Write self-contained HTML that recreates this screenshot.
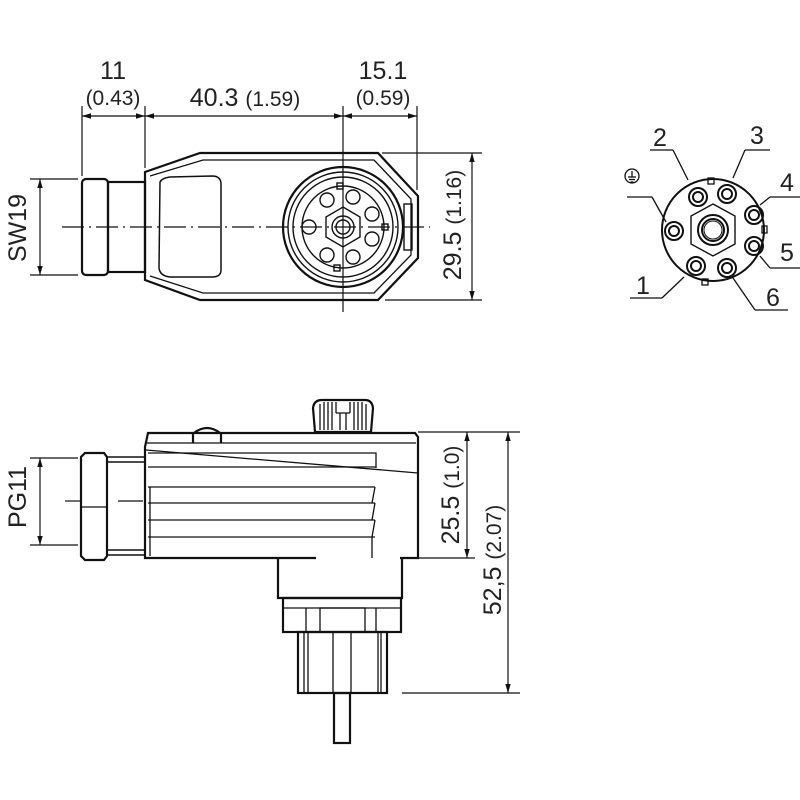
<!DOCTYPE html>
<html><head><meta charset="utf-8"><style>html,body{margin:0;padding:0;background:#fff}svg{display:block}</style></head>
<body>
<svg width="800" height="800" viewBox="0 0 800 800" xmlns="http://www.w3.org/2000/svg" font-family="Liberation Sans, sans-serif" fill="none" stroke="#111">
<defs>
<marker id="a" viewBox="0 0 10 10" refX="10" refY="5" markerWidth="9" markerHeight="9" orient="auto-start-reverse" markerUnits="userSpaceOnUse"><path d="M0,2 L10,5 L0,8 Z" fill="#111" stroke="none"/></marker>
</defs>
<g font-size="25" fill="#222" stroke="none">
<text x="113" y="79" text-anchor="middle">11</text>
<text x="113" y="105" text-anchor="middle" font-size="21">(0.43)</text>
<text x="245" y="106" text-anchor="middle">40.3 <tspan font-size="21">(1.59)</tspan></text>
<text x="383" y="79" text-anchor="middle">15.1</text>
<text x="383" y="105" text-anchor="middle" font-size="21">(0.59)</text>
<text transform="translate(461,225) rotate(-90)" text-anchor="middle">29.5 <tspan font-size="21">(1.16)</tspan></text>
<text transform="translate(26,228) rotate(-90)" text-anchor="middle">SW19</text>
<text transform="translate(26,497) rotate(-90)" text-anchor="middle">PG11</text>
<text transform="translate(459,495) rotate(-90)" text-anchor="middle">25.5 <tspan font-size="21">(1.0)</tspan></text>
<text transform="translate(501,560) rotate(-90)" text-anchor="middle">52,5 <tspan font-size="21">(2.07)</tspan></text>
<text x="660" y="146" text-anchor="middle">2</text>
<text x="757" y="144" text-anchor="middle">3</text>
<text x="787" y="191" text-anchor="middle">4</text>
<text x="787" y="261" text-anchor="middle">5</text>
<text x="773" y="306" text-anchor="middle">6</text>
<text x="643" y="294" text-anchor="middle">1</text>
</g>
<!-- top dims -->
<g stroke-width="1.2">
<line x1="82" y1="106" x2="82" y2="176"/><line x1="145" y1="106" x2="145" y2="168"/><line x1="343" y1="106" x2="343" y2="150"/><line x1="417" y1="106" x2="417" y2="190"/>
<line x1="82" y1="116" x2="145" y2="116" marker-start="url(#a)" marker-end="url(#a)"/>
<line x1="145" y1="116" x2="343" y2="116" marker-start="url(#a)" marker-end="url(#a)"/>
<line x1="343" y1="116" x2="417" y2="116" marker-start="url(#a)" marker-end="url(#a)"/>
<line x1="382" y1="153" x2="482" y2="153"/><line x1="385" y1="300" x2="482" y2="300"/>
<line x1="472" y1="153" x2="472" y2="300" marker-start="url(#a)" marker-end="url(#a)"/>
<line x1="30" y1="179" x2="78" y2="179"/><line x1="30" y1="275" x2="78" y2="275"/>
<line x1="40" y1="179" x2="40" y2="275" marker-start="url(#a)" marker-end="url(#a)"/>
<line x1="62" y1="227" x2="430" y2="227" stroke-dasharray="22,5,2,5"/>
<line x1="343" y1="150" x2="343" y2="312"/>
</g>
<!-- top view -->
<g stroke-width="2.2">
<rect x="82" y="179" width="26" height="96" rx="4"/>
<rect x="108" y="182" width="37" height="90"/>
<path d="M145,172 L200,153 L378,153 L418,196 L418,258 L378,300 L200,300 L145,280 Z"/>
<path d="M150,176 L203,160 L374,160 L411,199 L411,255 L374,293 L203,293 L150,276" stroke-width="1.3"/>
<path d="M160,182 Q162,178 170,177 L212,176 Q221,176 221,184 L221,270 Q221,277 212,277 L170,277 Q160,276 159,268 Z" stroke-width="1.5"/>
<circle cx="343" cy="227" r="60"/>
<circle cx="343" cy="227" r="55" stroke-width="1.4"/>
<circle cx="343" cy="227" r="50" stroke-width="1.4"/>
<circle cx="343" cy="227" r="41" stroke-width="1.4"/>
<rect x="404" y="204" width="8" height="46" stroke-width="1.4"/>
</g>
<g stroke-width="1.4">
<circle cx="327" cy="200" r="7"/><circle cx="353" cy="197" r="7"/><circle cx="372" cy="214" r="7"/><circle cx="372" cy="239" r="7"/><circle cx="353" cy="257" r="7"/><circle cx="327" cy="255" r="7"/><circle cx="309" cy="227" r="7"/>
<circle cx="343" cy="227" r="11"/><circle cx="343" cy="227" r="7"/>
<polygon points="343,207 360,217 360,237 343,247 326,237 326,217"/>
<rect x="337" y="183" width="6" height="6"/><rect x="334" y="265" width="6" height="6"/><rect x="382" y="224" width="6" height="6"/>
</g>
<!-- pin diagram -->
<g stroke-width="2">
<circle cx="713" cy="230" r="51"/>
<polygon points="713,204 735,216 735,244 713,256 691,244 691,216" stroke-width="1.4"/>
<circle cx="713" cy="230" r="15"/><circle cx="713" cy="230" r="11"/><circle cx="713" cy="230" r="9" stroke-width="1"/>
<circle cx="698" cy="197" r="9"/><circle cx="698" cy="197" r="5"/>
<circle cx="727" cy="194" r="9"/><circle cx="727" cy="194" r="5"/>
<circle cx="754" cy="215" r="9"/><circle cx="754" cy="215" r="5"/>
<circle cx="754" cy="246" r="9"/><circle cx="754" cy="246" r="5"/>
<circle cx="727" cy="268" r="9"/><circle cx="727" cy="268" r="5"/>
<circle cx="696" cy="266" r="9"/><circle cx="696" cy="266" r="5"/>
<circle cx="674" cy="231" r="9"/><circle cx="674" cy="231" r="5"/>
<rect x="708" y="178" width="6" height="6" stroke-width="1.3"/><rect x="702" y="279" width="6" height="6" stroke-width="1.3"/><rect x="762" y="226" width="5" height="7" stroke-width="1.3"/>
</g>
<g stroke-width="1.3">
<line x1="650" y1="150" x2="673" y2="150"/><line x1="673" y1="150" x2="688" y2="180"/>
<line x1="745" y1="150" x2="770" y2="150"/><line x1="745" y1="150" x2="733" y2="178"/>
<line x1="770" y1="197" x2="800" y2="197"/><line x1="770" y1="197" x2="760" y2="205"/>
<line x1="770" y1="268" x2="800" y2="268"/><line x1="770" y1="268" x2="760" y2="256"/>
<line x1="755" y1="310" x2="788" y2="310"/><line x1="755" y1="310" x2="733" y2="278"/>
<line x1="630" y1="298" x2="662" y2="298"/><line x1="662" y1="298" x2="684" y2="277"/>
<line x1="627" y1="197" x2="652" y2="197"/><line x1="652" y1="197" x2="666" y2="222"/>
<circle cx="632" cy="176" r="7"/><line x1="632" y1="171" x2="632" y2="177"/><line x1="628" y1="177" x2="636" y2="177"/><line x1="629" y1="179.5" x2="635" y2="179.5"/><line x1="630.5" y1="182" x2="633.5" y2="182"/>
</g>
<!-- bottom view dims -->
<g stroke-width="1.2">
<line x1="30" y1="458" x2="78" y2="458"/><line x1="30" y1="545" x2="78" y2="545"/>
<line x1="40" y1="458" x2="40" y2="545" marker-start="url(#a)" marker-end="url(#a)"/>
<line x1="65" y1="501" x2="80" y2="501"/><line x1="118" y1="501" x2="143" y2="501"/>
<line x1="418" y1="432" x2="520" y2="432"/><line x1="415" y1="558" x2="475" y2="558"/><line x1="402" y1="693" x2="520" y2="693"/>
<line x1="467" y1="432" x2="467" y2="558" marker-start="url(#a)" marker-end="url(#a)"/>
<line x1="508" y1="432" x2="508" y2="693" marker-start="url(#a)" marker-end="url(#a)"/>
</g>
<!-- bottom view -->
<g stroke-width="2.2">
<path d="M85,453 L104,453 L107,457 L107,556 L104,560 L85,560 L81,556 L81,457 Z"/>
<line x1="81" y1="507" x2="107" y2="507" stroke-width="1.2"/>
<path d="M107,457 L145,457 M107,555 L145,555 M107,462 L145,462 M107,550 L145,550" stroke-width="1.4"/>
<path d="M316,558 L145,558 L145,447 L148,433 L415,433 L418,437 L418,558 L400,558"/>
<path d="M193,443 L193,433 M221,443 L221,433 M194,433 Q207,423 220,433"/>
<path d="M278,558 L278,598 L402,598 L402,558"/>
<rect x="283" y="598" width="118" height="34"/>
<rect x="298" y="632" width="89" height="61"/>
<rect x="334" y="693" width="16" height="50"/>
<path d="M315,432 L313,408 Q314,400 322,400 L365,400 Q372,400 373,408 L371,432 Z"/>
</g>
<g stroke-width="1.3">
<line x1="146" y1="443" x2="416" y2="443"/>
<line x1="146" y1="450" x2="418" y2="473"/>
<path d="M148,453 L376,453 L376,468"/>
<line x1="148" y1="467" x2="376" y2="467"/>
<line x1="148" y1="487" x2="375" y2="487"/><line x1="148" y1="503" x2="375" y2="503"/><line x1="148" y1="520" x2="375" y2="520"/><line x1="148" y1="537" x2="375" y2="537"/>
<line x1="375" y1="487" x2="372" y2="503"/><line x1="375" y1="503" x2="372" y2="520"/><line x1="375" y1="520" x2="372" y2="537"/>
<line x1="372" y1="537" x2="372" y2="558"/>
<line x1="150" y1="487" x2="150" y2="556"/>
<line x1="306" y1="608" x2="306" y2="632"/><line x1="376" y1="608" x2="376" y2="632"/><rect x="320" y="608" width="45" height="24"/>
<line x1="283" y1="608" x2="401" y2="608"/>
<line x1="304" y1="632" x2="304" y2="693"/><line x1="308" y1="632" x2="308" y2="693"/><line x1="333" y1="632" x2="333" y2="693"/><line x1="351" y1="632" x2="351" y2="693"/><line x1="378" y1="632" x2="378" y2="693"/><line x1="381" y1="632" x2="381" y2="693"/>
<path d="M320,404 L320,430 M324,402 L324,430 M328,402 L328,430 M332,402 L332,430 M336,402 L336,413 M350,402 L350,413 M354,402 L354,430 M358,402 L358,430 M362,402 L362,430 M366,404 L366,430 M336,413 L350,413 M340,413 L340,430 M346,413 L346,430"/>
</g>
</svg>
</body></html>
